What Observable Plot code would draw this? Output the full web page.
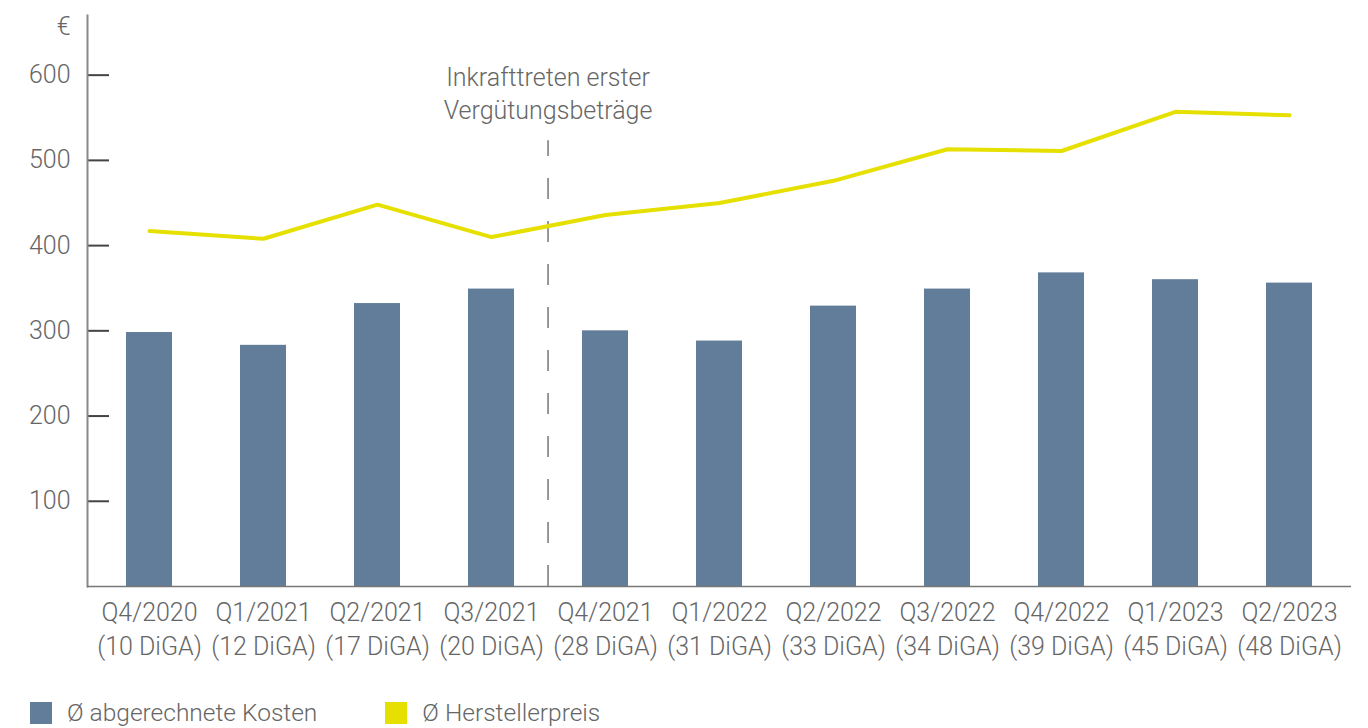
<!DOCTYPE html>
<html>
<head>
<meta charset="utf-8">
<script src="https://cdn.jsdelivr.net/npm/d3@7"></script>
<script src="https://cdn.jsdelivr.net/npm/@observablehq/plot@0.6"></script>
<style>
  html, body { margin: 0; padding: 0; background: #fff; }
  body { font-family: Roboto, "Open Sans", sans-serif; font-weight: 300; color: #666; position: relative; width: 1368px; height: 728px; overflow: hidden; }
  #legend { position: absolute; left: 30px; top: 698px; display: flex; align-items: center; font-size: 24.5px; color: #666; font-weight: 300; }
  .item { display: flex; align-items: center; }
  .swatch { width: 22px; height: 22px; margin-right: 15px; }
  svg text { font-weight: 300; }
</style>
</head>
<body>
<div id="chart"></div>
<div id="legend"></div>
<script>
// ---- data ----
const quarters = ["Q4/2020", "Q1/2021", "Q2/2021", "Q3/2021", "Q4/2021", "Q1/2022", "Q2/2022", "Q3/2022", "Q4/2022", "Q1/2023", "Q2/2023"];
const digaCounts = [10, 12, 17, 20, 28, 31, 33, 34, 39, 45, 48];
const costs = [298, 283, 332, 349, 300, 288, 329, 349, 368, 360, 356];     // Ø abgerechnete Kosten
const prices = [417, 408, 448, 410, 436, 450, 476, 513, 511, 557, 553];   // Ø Herstellerpreis
const yTicks = [100, 200, 300, 400, 500, 600];
const yUnit = "€";
const seriesNames = ["Ø abgerechnete Kosten", "Ø Herstellerpreis"];
const seriesColors = ["#627d99", "#e6e000"];
const annotationText = "Inkrafttreten erster\nVergütungsbeträge";
const annotationBefore = "Q4/2021";
const annotationTop = [523];

// ---- layout ----
const W = 1368, H = 680, mL = 87, mR = 17, mT = 15, mB = 94;
const pIn = 0.6, pOut = 0.3;
const FS = 25;
const tickLen = 22;
const step = (W - mL - mR) / (quarters.length - pIn + 2 * pOut);
const labelOf = (q, i) => `${q}\n(${digaCounts[i]} DiGA)`;
const labels = quarters.map(labelOf);
const data = quarters.map((q, i) => ({ label: labels[i], cost: costs[i], price: prices[i] }));
const annX = labels[quarters.indexOf(annotationBefore)];
const annData = annotationTop.map(t => ({ x: annX, top: t, text: annotationText }));

const chart = Plot.plot({
  width: W, height: H,
  marginLeft: mL, marginRight: mR, marginTop: mT, marginBottom: mB,
  style: { fontFamily: "Roboto, sans-serif", fontSize: FS + "px", color: "#666", background: "#fff", overflow: "visible" },
  x: { domain: labels, paddingInner: pIn, paddingOuter: pOut, align: 0.5 },
  y: { domain: [0, 670] },
  marks: [
    Plot.barY(data, { x: "label", y: "cost", fill: seriesColors[0] }),
    Plot.ruleX(annData, { x: "x", y1: 0, y2: "top", dx: -step / 2, stroke: "#777", strokeWidth: 1.5, strokeDasharray: "21 22" }),
    Plot.lineY(data, { x: "label", y: "price", stroke: seriesColors[1], strokeWidth: 4 }),
    Plot.text(annData, { x: "x", y: "top", dx: -step / 2, dy: -22, text: "text", lineAnchor: "bottom", lineHeight: 1.3, fill: "#666", fontSize: FS }),
    Plot.axisX({ tickSize: 0, tickPadding: 10, lineHeight: 1.36, fill: "#666", label: null, fontSize: FS }),
    Plot.axisY({ ticks: yTicks, tickSize: 0, tickPadding: 17, label: null, fill: "#666", fontSize: FS }),
    Plot.tickY(yTicks, { y: d => d, insetRight: W - mL - mR - tickLen, stroke: "#444", strokeWidth: 2 }),
    Plot.frame({ anchor: "left", stroke: "#888", strokeWidth: 2 }),
    Plot.ruleY([0], { stroke: "#777", strokeWidth: 1.6 }),
    Plot.text([yUnit], { frameAnchor: "top-left", dx: -17, dy: 11, textAnchor: "end", lineAnchor: "middle", fill: "#666", fontSize: FS })
  ]
});
document.getElementById("chart").appendChild(chart);

const legend = document.getElementById("legend");
seriesNames.forEach((name, i) => {
  const item = document.createElement("div");
  item.className = "item";
  if (i > 0) item.style.marginLeft = "68px";
  item.innerHTML = `<div class="swatch" style="background:${seriesColors[i]}"></div><span>${name}</span>`;
  legend.appendChild(item);
});
</script>
</body>
</html>
